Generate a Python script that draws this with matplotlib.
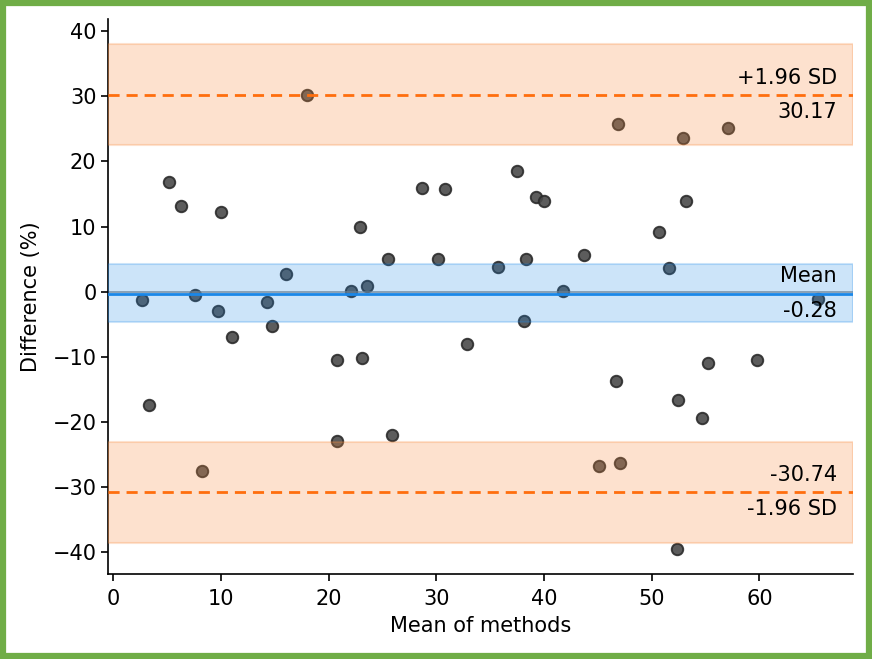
import numpy as np
import matplotlib
matplotlib.use('Agg')
import matplotlib.pyplot as plt
from matplotlib.patches import Rectangle

plt.rcParams['font.family'] = ['DejaVu Sans']

# mean of the two methods / difference between them (%)
means = [2.67, 3.35, 5.2, 6.26, 7.6, 8.27, 9.7, 10.03, 11.05, 14.3, 14.74, 16.04,
         18.02, 20.78, 20.74, 22.08, 22.88, 23.1, 23.53, 25.5, 25.92, 28.64, 30.13,
         30.8, 32.85, 35.76, 37.47, 38.17, 38.36, 39.29, 40.0, 41.77, 43.72, 45.1,
         46.72, 46.9, 47.06, 50.65, 51.64, 52.35, 52.48, 52.88, 53.19, 54.68, 55.27,
         57.06, 59.78, 65.48]
diffs = [-1.2, -17.4, 16.8, 13.1, -0.45, -27.5, -2.96, 12.3, -6.95, -1.6, -5.2, 2.8,
         30.12, -10.4, -22.85, 0.1, 9.9, -10.2, 0.9, 5.1, -22.0, 15.9, 5.07,
         15.7, -7.97, 3.8, 18.47, -4.45, 5.1, 14.6, 13.9, 0.15, 5.6, -26.8,
         -13.75, 25.7, -26.3, 9.1, 3.6, -39.5, -16.66, 23.6, 13.86, -19.4, -11.0,
         25.06, -10.5, -1.16]

mean_diff = -0.28
upper_loa = 30.17
lower_loa = -30.74
mean_ci = [-4.7, 4.2]
upper_ci = [22.45, 37.95]
lower_ci = [-38.5, -23.05]

fig = plt.figure(figsize=(8.72, 6.59), dpi=100)
ax = fig.add_axes([0.1242, 0.129, 0.8537, 0.8417])

ax.scatter(means, diffs, s=68, color='#4a4a4a', edgecolor='#2b2b2b', linewidth=1.4,
           alpha=0.9, zorder=1)

ax.axhline(0, color='gray', lw=1.2, alpha=0.8, zorder=2)

ax.axhspan(mean_ci[0], mean_ci[1], facecolor='#1a87e8', edgecolor='#1a87e8',
           alpha=0.22, lw=1.5, zorder=3)
ax.axhspan(upper_ci[0], upper_ci[1], facecolor='#f98b3c', edgecolor='#f98b3c',
           alpha=0.25, lw=1.5, zorder=3)
ax.axhspan(lower_ci[0], lower_ci[1], facecolor='#f98b3c', edgecolor='#f98b3c',
           alpha=0.25, lw=1.5, zorder=3)

ax.axhline(mean_diff, color='#1a87e8', lw=2, zorder=4)
ax.axhline(upper_loa, color='#ff6e0e', lw=2, ls='--', dashes=(4, 2.5), zorder=4)
ax.axhline(lower_loa, color='#ff6e0e', lw=2, ls='--', dashes=(4, 2.5), zorder=4)

tx = 0.979
fs = 15
trans = ax.get_yaxis_transform()
ax.text(tx, upper_loa + 1.1, '+1.96 SD', transform=trans, ha='right', va='bottom', fontsize=fs, zorder=5)
ax.text(tx, upper_loa - 1.1, '%.2f' % upper_loa, transform=trans, ha='right', va='top', fontsize=fs, zorder=5)
ax.text(tx, mean_diff + 1.1, 'Mean', transform=trans, ha='right', va='bottom', fontsize=fs, zorder=5)
ax.text(tx, mean_diff - 1.1, '%.2f' % mean_diff, transform=trans, ha='right', va='top', fontsize=fs, zorder=5)
ax.text(tx, lower_loa + 1.1, '%.2f' % lower_loa, transform=trans, ha='right', va='bottom', fontsize=fs, zorder=5)
ax.text(tx, lower_loa - 1.1, '-1.96 SD', transform=trans, ha='right', va='top', fontsize=fs, zorder=5)

ax.set_xlim(-0.46, 68.67)
ax.set_ylim(-43.3, 41.8)
ax.set_xticks([0, 10, 20, 30, 40, 50, 60])
ax.set_yticks([-40, -30, -20, -10, 0, 10, 20, 30, 40])
ax.tick_params(labelsize=fs, width=1.2, length=5)
ax.tick_params(axis='x', pad=6)
ax.set_xlabel('Mean of methods', fontsize=fs, labelpad=5)
ax.set_ylabel('Difference (%)', fontsize=fs, labelpad=8)
ax.spines['top'].set_visible(False)
ax.spines['right'].set_visible(False)
ax.spines['left'].set_linewidth(1.2)
ax.spines['bottom'].set_linewidth(1.2)

# green frame around the whole picture
fig.patches.append(Rectangle((0.003, 0.004), 0.9935, 0.992, transform=fig.transFigure,
                             fill=False, edgecolor='#70ad47', linewidth=4.5))

fig.savefig('out.png', dpi=100)
